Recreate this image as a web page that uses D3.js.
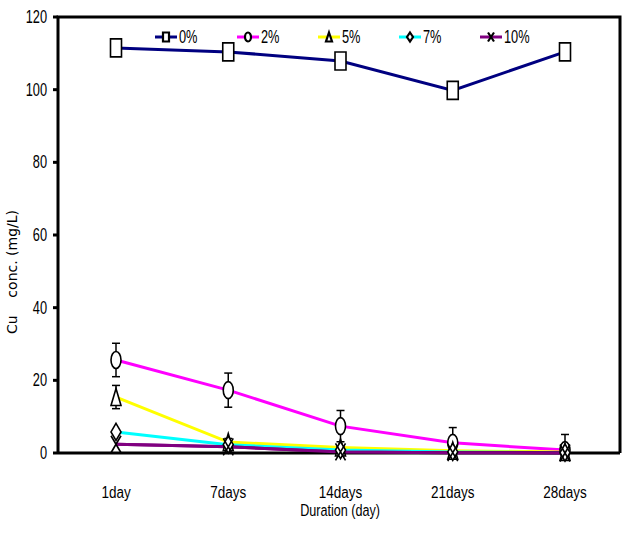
<!DOCTYPE html>
<html><head><meta charset="utf-8">
<script src="https://cdn.jsdelivr.net/npm/d3@7"></script>
<style>body{margin:0;background:#fff}svg{display:block}</style>
</head><body>
<script>
const categories = ["1day","7days","14days","21days","28days"];
const seriesNames = ["0%","2%","5%","7%","10%"];
const values0 = [111.5,110.4,107.9,99.8,110.4];
const values2 = [25.6,17.3,7.4,2.8,0.8];
const values5 = [15.4,3.0,1.5,0.6,0.3];
const values7 = [5.8,2.3,0.8,0.3,0.1];
const values10 = [2.4,1.7,0.3,0.1,0.0];
const err2 = [4.6,4.7,4.3,4.2,4.3];
const err5 = [3.2,1.0,0.3,0.2,0.2];
const yTicks = [0,20,40,60,80,100,120];
const colors = ["#000080","#ff00ff","#ffff00","#00ffff","#800080"];
const shapes = ["square","circle","triangle","diamond","x"];

const W=640,H=533;
const m={l:58,t:17,r:620,b:453};
const svg=d3.select("body").append("svg").attr("width",W).attr("height",H);
const x=d3.scalePoint().domain(categories).range([116,565]);
const y=d3.scaleLinear().domain([0,120]).range([m.b,m.t]);

const font="'Liberation Sans Narrow','Liberation Sans',Arial,sans-serif";
function condText(g,tx,ty,str,size,anchor,sx){
  const gg=g.append("g").attr("transform",`translate(${tx},${ty}) scale(${sx||0.85},1.15)`);
  return gg.append("text").attr("text-anchor",anchor).attr("font-family",font).attr("font-size",size).attr("fill","#000").text(str);
}

// frame
svg.append("path").attr("d",`M${m.l},${m.b}V${m.t}H${m.r}V${m.b}`).attr("fill","none").attr("stroke","#000").attr("stroke-width",3);

// y ticks
yTicks.forEach(t=>{
  svg.append("line").attr("x1",m.l-5).attr("x2",m.l).attr("y1",y(t)).attr("y2",y(t)).attr("stroke","#000").attr("stroke-width",3);
  condText(svg,47,y(t)+6,t,16,"end",0.8);
});

// x labels
categories.forEach(c=>condText(svg,x(c),498,c,15,"middle",0.9));
condText(svg,340,516,"Duration (day)",14,"middle",0.9);

// y label
svg.append("text").attr("transform","translate(17,272) rotate(-90)").attr("text-anchor","middle")
  .attr("font-family","'DejaVu Sans',Verdana,sans-serif").attr("font-size",14)
  .style("white-space","pre").attr("xml:space","preserve")
  .text("Cu    conc. (mg/L)");

const allVals=[values0,values2,values5,values7,values10];
const line=d3.line().x((d,i)=>x(categories[i])).y(d=>y(d));

allVals.forEach((vals,k)=>{
  svg.append("path").datum(vals).attr("d",line).attr("fill","none").attr("stroke",colors[k]).attr("stroke-width",3);
});
svg.append("line").attr("x1",m.l).attr("x2",m.r).attr("y1",m.b).attr("y2",m.b).attr("stroke","#000").attr("stroke-width",3);
svg.append("path").datum(values10).attr("d",line).attr("fill","none").attr("stroke",colors[4]).attr("stroke-width",3);

function markerPath(shape,w,h){
  const a=w/2,b=h/2;
  switch(shape){
    case "square": return `M${-a},${-b}H${a}V${b}H${-a}Z`;
    case "circle": return `M${-a},0A${a},${b} 0 1,0 ${a},0A${a},${b} 0 1,0 ${-a},0Z`;
    case "triangle": return `M0,${-b}L${a},${b}H${-a}Z`;
    case "diamond": return `M0,${-b}L${a},0L0,${b}L${-a},0Z`;
    case "x": return `M${-a},${-b}L${a},${b}M${a},${-b}L${-a},${b}`;
  }
}

function errBars(vals,errs){
  vals.forEach((v,i)=>{
    const cx=x(categories[i]);
    const top=y(v+errs[i]), bot=y(Math.max(0,v-errs[i]));
    svg.append("line").attr("x1",cx).attr("x2",cx).attr("y1",top).attr("y2",bot).attr("stroke","#000").attr("stroke-width",1.5);
    [top,bot].forEach(yy=>svg.append("line").attr("x1",cx-4).attr("x2",cx+4).attr("y1",yy).attr("y2",yy).attr("stroke","#000").attr("stroke-width",1.5));
  });
}
errBars(values2,err2);
errBars(values5,err5);

allVals.forEach((vals,k)=>{
  vals.forEach((v,i)=>{
    const g=svg.append("g").attr("transform",`translate(${x(categories[i])},${y(v)})`);
    const sh=shapes[k];
    const w= sh==="square"?11:10, h= sh==="square"?18:17;
    g.append("path").attr("d",markerPath(sh,w,h))
      .attr("fill",sh==="x"?"none":"#fff").attr("stroke","#000").attr("stroke-width",1.6);
  });
});

const lx=[155,237,318,399,480];
seriesNames.forEach((n,k)=>{
  const g=svg.append("g").attr("transform",`translate(${lx[k]},37)`);
  g.append("line").attr("x1",0).attr("x2",22).attr("y1",0).attr("y2",0).attr("stroke",colors[k]).attr("stroke-width",3);
  g.append("path").attr("transform","translate(11,0)").attr("d",markerPath(shapes[k],6,9))
    .attr("fill",shapes[k]==="x"?"none":"#fff").attr("stroke","#000").attr("stroke-width",2.2);
  condText(g,24,6,n,16,"start",0.8);
});
</script>
</body></html>
